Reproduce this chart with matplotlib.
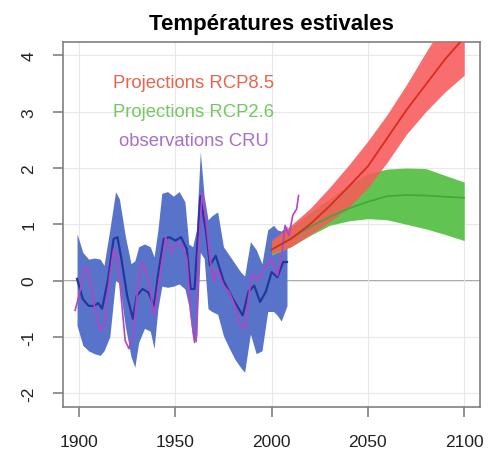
import matplotlib
matplotlib.use("Agg")
import matplotlib.pyplot as plt

plt.rcParams['font.family'] = ['Liberation Sans', 'DejaVu Sans']

# observed period: blue envelope, its smoothed mean, CRU observations
band_years = [1899, 1902, 1905, 1908, 1911, 1913, 1916, 1919, 1921, 1924, 1927, 1929,
              1931, 1934, 1937, 1939, 1941, 1943, 1946, 1949, 1952, 1955, 1957, 1959,
              1961, 1963, 1965, 1967, 1969, 1972, 1975, 1978, 1981, 1984, 1986, 1989,
              1992, 1995, 1998, 2001, 2003, 2005, 2008]
band_upper = [0.83, 0.5, 0.38, 0.4, 0.38, 0.27, 0.9, 1.58, 1.45, 0.8, 0.3, 0.35,
              0.6, 0.65, 0.6, 0.42, 0.9, 1.55, 1.58, 1.5, 1.58, 1.4, 0.65, 0.6,
              0.9, 2.29, 1.5, 1.08, 1.15, 1.22, 0.6, 0.45, 0.3, 0.15, 0.08, 0.69,
              0.55, 0.3, 0.9, 0.98, 0.9, 0.88, 0.97]
band_lower = [-0.8, -1.15, -1.25, -1.3, -1.33, -1.25, -1.0, 0.0, -0.05, -0.8, -1.35, -1.54,
              -1.1, -0.85, -0.9, -1.21, -0.5, -0.1, -0.12, -0.1, -0.06, -0.15, -0.45, -1.0,
              -1.1, 0.5, 0.39, -0.5, -0.55, -0.6, -0.98, -1.2, -1.4, -1.55, -1.63, -0.95,
              -1.3, -1.25, -0.55, -0.55, -0.62, -0.72, -0.45]

mean_years = [1899, 1902, 1905, 1908, 1910, 1912, 1915, 1918, 1920, 1922, 1925, 1928,
              1930, 1933, 1936, 1939, 1941, 1944, 1947, 1950, 1953, 1956, 1958, 1960,
              1963, 1966, 1968, 1971, 1975, 1980, 1985, 1988, 1991, 1994, 1997, 2000,
              2003, 2006, 2008]
mean_obs = [0.03, -0.33, -0.45, -0.45, -0.4, -0.5, 0.0, 0.74, 0.77, 0.39, -0.27, -0.68,
            -0.27, -0.15, -0.21, -0.45, 0.09, 0.74, 0.77, 0.71, 0.77, 0.56, -0.15, -0.15,
            1.5, 0.86, 0.27, 0.44, 0.0, -0.33, -0.62, -0.2, -0.09, -0.38, -0.2, 0.15,
            0.06, 0.33, 0.33]

cru_years = [1898, 1900, 1903, 1905, 1908, 1911, 1913, 1916, 1918, 1920, 1922, 1924,
             1926, 1928, 1931, 1933, 1936, 1939, 1942, 1945, 1948, 1951, 1954, 1956,
             1958, 1960, 1961, 1962, 1964, 1966, 1968, 1970, 1972, 1975, 1978, 1981,
             1984, 1986, 1988, 1990, 1993, 1996, 2000, 2003, 2005, 2007, 2009, 2011,
             2013, 2014]
cru = [-0.53, -0.27, 0.24, 0.2, -0.45, -0.89, -0.8, 0.09, 0.56, 0.39, -0.33, -1.07,
       -1.21, -0.98, 0.03, 0.33, 0.03, -0.62, 0.09, 0.77, 0.5, 0.68, 0.6, 0.39,
       -0.56, -1.1, -0.98, 0.5, 1.58, 1.04, 0.39, 0.0, 0.2, -0.09, -0.2, -0.45,
       -0.8, -0.86, -0.3, 0.12, 0.0, 0.21, 0.39, 0.09, 0.39, 0.98, 0.8, 1.16,
       1.27, 1.51]

# projections
proj_years = [2000, 2010, 2020, 2030, 2040, 2050, 2060, 2070, 2080, 2090, 2100]
rcp85_mean = [0.55, 0.74, 1.0, 1.32, 1.67, 2.03, 2.53, 3.03, 3.48, 3.93, 4.32]
rcp85_low = [0.48, 0.6, 0.82, 1.04, 1.3, 1.65, 2.1, 2.6, 3.0, 3.35, 3.65]
rcp85_high = [0.72, 0.98, 1.28, 1.65, 2.05, 2.48, 2.95, 3.48, 4.05, 4.6, 5.1]
rcp26_mean = [0.55, 0.75, 0.95, 1.13, 1.28, 1.4, 1.5, 1.52, 1.51, 1.49, 1.47]
rcp26_low = [0.45, 0.6, 0.8, 0.98, 1.06, 1.1, 1.08, 1.0, 0.92, 0.82, 0.71]
rcp26_high = [0.7, 0.95, 1.2, 1.45, 1.7, 1.9, 1.98, 2.0, 1.99, 1.87, 1.75]

legend_labels = ["Projections RCP8.5", "Projections RCP2.6", "observations CRU"]
legend_colors = ["#e8644e", "#74c860", "#a870c8"]

fig = plt.figure(figsize=(4.92, 4.52), dpi=100)
ax = fig.add_axes([0.128, 0.097, 0.848, 0.808])

ax.set_xlim(1891.7, 2108.3)
ax.set_ylim(-2.25, 4.24)
ax.set_xticks([1900, 1950, 2000, 2050, 2100])
ax.set_yticks([-2, -1, 0, 1, 2, 3, 4])
ax.set_yticklabels(["-2", "-1", "0", "1", "2", "3", "4"], rotation=90, va="center")
ax.grid(True, color="#e8e8e8", lw=0.8, zorder=0)
ax.axhline(0, color="#a8a8a8", lw=1.4, zorder=1)

ax.fill_between(band_years, band_lower, band_upper, color="#5874ca", lw=0, zorder=2)
ax.fill_between(proj_years, rcp26_low, rcp26_high, color="#62c450", lw=0, zorder=3)
ax.fill_between(proj_years, rcp85_low, rcp85_high, color="#f85a5a", alpha=0.88, lw=0, zorder=4)

ax.plot(mean_years, mean_obs, color="#2436a0", lw=1.6, zorder=5)
ax.plot(cru_years, cru, color="#b444c4", lw=1.2, zorder=6)
ax.plot(proj_years, rcp26_mean, color="#3fa83a", lw=1.2, zorder=5)
ax.plot(proj_years, rcp85_mean, color="#dc2a1c", lw=1.3, zorder=6)

for i, (lab, col) in enumerate(zip(legend_labels, legend_colors)):
    ax.text(1959.7, 3.44 - 0.52 * i, lab, color=col, fontsize=13.3,
            ha="center", va="baseline", zorder=7)

for s in ax.spines.values():
    s.set_color("#808080")
    s.set_linewidth(1.2)
ax.tick_params(direction="out", length=7, width=1.2, color="#808080",
               labelsize=12.5, labelcolor="#222222")
ax.tick_params(axis="x", pad=12)
ax.tick_params(axis="y", pad=12)

ax.set_title("Températures estivales", fontsize=16, fontweight="bold", pad=9)

fig.savefig("out.png", dpi=100)
